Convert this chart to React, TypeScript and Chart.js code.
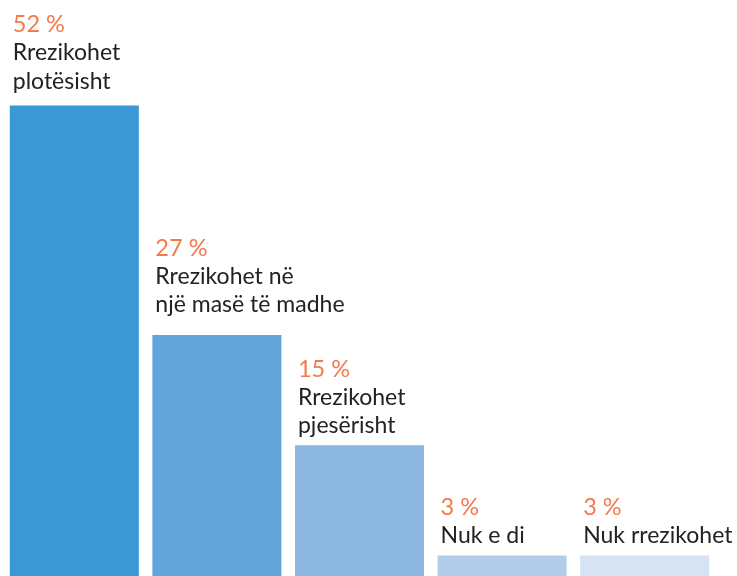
import React, { useEffect, useRef } from "react";
import { Chart, registerables } from "chart.js";

Chart.register(...registerables);

const categories: string[][] = [
  ["Rrezikohet", "plotësisht"],
  ["Rrezikohet në", "një masë të madhe"],
  ["Rrezikohet", "pjesërisht"],
  ["Nuk e di"],
  ["Nuk rrezikohet"],
];
const values: number[] = [52, 27, 15, 3, 3];
const valueLabels: string[] = ["52 %", "27 %", "15 %", "3 %", "3 %"];
const barColors: string[] = ["#3A98D5", "#62A5DA", "#8BB7E1", "#B1CDE9", "#D5E3F3"];
const labelGaps: number[] = [17, 23, 12, 12, 12];

const labelPlugin = {
  id: "barLabels",
  afterDatasetsDraw(chart: any) {
    const ctx = chart.ctx;
    const meta = chart.getDatasetMeta(0);
    ctx.save();
    ctx.textAlign = "left";
    ctx.textBaseline = "alphabetic";
    meta.data.forEach((bar: any, i: number) => {
      const left = bar.x - bar.width / 2 + 3;
      const lines = categories[i];
      const lineH = 28.3;
      let base = bar.y - labelGaps[i];
      ctx.fillStyle = "#222222";
      ctx.font = "400 23px Lato";
      for (let j = lines.length - 1; j >= 0; j--) {
        ctx.fillText(lines[j], left, base);
        base -= lineH;
      }
      ctx.fillStyle = "#F37A4B";
      ctx.font = "400 23.5px Lato";
      ctx.fillText(valueLabels[i], left, base);
    });
    ctx.restore();
  },
};

export default function App() {
  const ref = useRef<HTMLCanvasElement | null>(null);
  useEffect(() => {
    if (!ref.current) return;
    const chart = new Chart(ref.current, {
      type: "bar",
      data: {
        labels: categories.map((c) => c.join(" ")),
        datasets: [
          {
            data: values,
            backgroundColor: barColors,
            borderWidth: 0,
            barPercentage: 0.905,
            categoryPercentage: 1,
          },
        ],
      },
      options: {
        responsive: false,
        animation: false,
        layout: { padding: { left: 3, right: 21, top: 0, bottom: 0 } },
        plugins: { legend: { display: false }, tooltip: { enabled: false } },
        scales: {
          x: { display: false },
          y: { display: false, min: 0, max: 63.5 },
        },
      },
      plugins: [labelPlugin],
    });
    return () => chart.destroy();
  }, []);
  return (
    <div style={{ position: "absolute", top: 0, left: 0, width: 737, height: 576, overflow: "hidden", background: "#fff" }}>
      <canvas ref={ref} width={737} height={583} style={{ display: "block", width: 737, height: 583 }} />
    </div>
  );
}
